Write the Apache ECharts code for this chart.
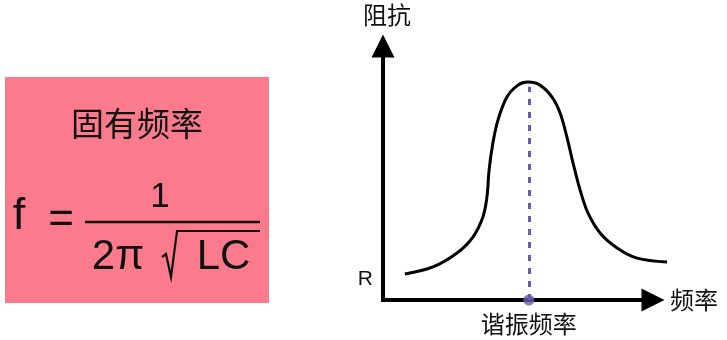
<!DOCTYPE html>
<html><head><meta charset="utf-8">
<script src="https://cdn.jsdelivr.net/npm/echarts@6/dist/echarts.min.js"></script>
<style>html,body{margin:0;padding:0;background:#fff}#c{width:727px;height:340px}</style>
</head><body><div id="c"></div>
<script>
// ---- data ----
const freq = [8.1, 18.5, 27.4, 33.3, 37.0, 38.5, 39.3, 40.7, 42.6, 45.9, 50.0, 53.7, 58.1, 62.6, 65.6, 68.1, 70.4, 73.0, 75.9, 80.4, 86.7, 94.1, 105.2];
const impedance = [10.2, 13.0, 18.5, 24.8, 32.7, 40.6, 51.2, 61.8, 70.9, 79.9, 84.6, 85.8, 84.6, 79.9, 73.6, 64.2, 53.9, 43.3, 34.3, 26.4, 20.5, 16.5, 15.0];
const resonance = 54;
const peakLine = 84;
const rLevel = 8;
const xName = '频率';
const yName = '阻抗';
const resonanceLabel = '谐振频率';
const rLabel = 'R';
const boxTitle = '固有频率';

const CJK = '"Noto Sans CJK SC", sans-serif';
const LAT = '"Liberation Sans", Arial, sans-serif';
const INK = '#111';
const PURPLE = '#6a5aa8';

// axis grid: x 0..100 over 270px; plot grid shares the same scale but extends further right
const pxPerUnit = 270 / 100;
const plotRight = 50;
const plotMax = (727 - plotRight - 383) / pxPerUnit;

const chart = echarts.init(document.getElementById('c'), null, {renderer: 'canvas'});
const option = {
  animation: false,
  grid: [
    {left: 383, right: 74, top: 46, bottom: 40, containLabel: false, outerBoundsMode: 'none'},
    {left: 383, right: plotRight, top: 46, bottom: 40, containLabel: false, outerBoundsMode: 'none'}
  ],
  xAxis: [{
    gridIndex: 0, type: 'value', min: 0, max: 100,
    name: xName, nameLocation: 'end', nameGap: 17,
    nameTextStyle: {fontFamily: CJK, fontSize: 24, color: INK, verticalAlign: 'middle'},
    axisLine: {show: true, onZero: false, symbol: ['none', 'triangle'], symbolSize: [23, 23],
      lineStyle: {color: '#000', width: 4, cap: 'square'}},
    axisTick: {show: false}, splitLine: {show: false},
    axisLabel: {show: true, customValues: [resonance], formatter: () => resonanceLabel, margin: 12,
      fontFamily: CJK, fontSize: 24, color: INK}
  }, {
    gridIndex: 1, type: 'value', min: 0, max: plotMax, show: false
  }],
  yAxis: [{
    gridIndex: 0, type: 'value', min: 0, max: 100,
    name: yName, nameLocation: 'end', nameGap: 19,
    nameTextStyle: {fontFamily: CJK, fontSize: 24, color: INK, padding: [0, 0, 0, 8]},
    axisLine: {show: true, onZero: false, symbol: ['none', 'triangle'], symbolSize: [23, 23],
      lineStyle: {color: '#000', width: 4, cap: 'square'}},
    axisTick: {show: false}, splitLine: {show: false},
    axisLabel: {show: true, customValues: [rLevel], formatter: () => rLabel, margin: 10,
      fontFamily: LAT, fontSize: 21, color: INK}
  }, {
    gridIndex: 1, type: 'value', min: 0, max: 100, show: false
  }],
  series: [
    {
      type: 'line', xAxisIndex: 1, yAxisIndex: 1,
      data: freq.map((x, i) => [x, impedance[i]]), smooth: 0.35,
      symbol: 'none', showSymbol: false, clip: false,
      lineStyle: {color: '#000', width: 3},
      markLine: {
        silent: true, symbol: 'none', label: {show: false},
        lineStyle: {color: PURPLE, type: [6, 7], width: 3},
        data: [[{coord: [resonance, 0]}, {coord: [resonance, peakLine]}]]
      }
    },
    {type: 'scatter', xAxisIndex: 1, yAxisIndex: 1, data: [[resonance, 0]], symbolSize: 11,
      itemStyle: {color: PURPLE}, z: 5, clip: false}
  ],
  graphic: [
    {type: 'rect', shape: {x: 5, y: 77, width: 264, height: 226}, style: {fill: '#fb7b8c'}},
    {type: 'text', x: 137, y: 123, style: {text: boxTitle, font: '33px ' + CJK, fill: INK, align: 'center', verticalAlign: 'middle'}},
    {type: 'text', x: 19, y: 217, style: {text: 'f', font: '45px ' + LAT, fill: INK, align: 'center', verticalAlign: 'middle'}},
    {type: 'text', x: 61, y: 221, style: {text: '=', font: '44px ' + LAT, fill: INK, align: 'center', verticalAlign: 'middle'}},
    {type: 'text', x: 160, y: 197.5, style: {text: '1', font: '35px ' + LAT, fill: INK, align: 'center', verticalAlign: 'middle'}},
    {type: 'line', shape: {x1: 85, y1: 222, x2: 260, y2: 222}, style: {stroke: INK, lineWidth: 2.5}},
    {type: 'text', x: 118, y: 257.5, style: {text: '2π', font: '42px ' + LAT, fill: INK, align: 'center', verticalAlign: 'middle'}},
    {type: 'polyline', shape: {points: [[162, 257], [166, 254], [171, 277], [177, 231], [260, 231]]}, style: {stroke: INK, lineWidth: 2.2, fill: null}},
    {type: 'text', x: 223.5, y: 257.5, style: {text: 'LC', font: '42px ' + LAT, fill: INK, align: 'center', verticalAlign: 'middle'}}
  ]
};
chart.setOption(option);
</script>
</body></html>
